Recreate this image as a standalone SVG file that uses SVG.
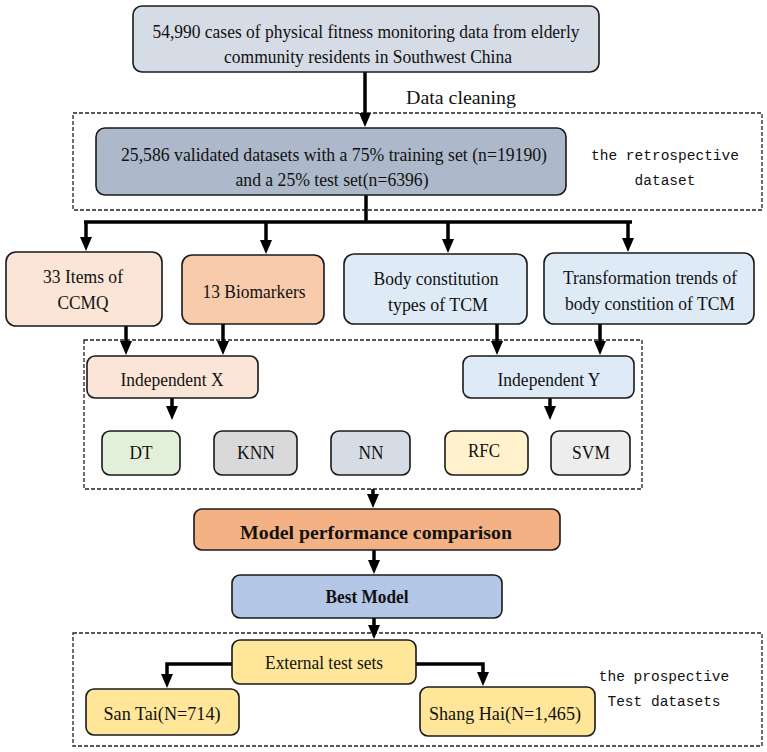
<svg xmlns="http://www.w3.org/2000/svg" width="767" height="752" viewBox="0 0 767 752">
<defs>
<marker id="ah" viewBox="0 0 14 12" refX="2" refY="6" markerWidth="14" markerHeight="12" markerUnits="userSpaceOnUse" orient="auto">
<path d="M0,0 L14,6 L0,12 z" fill="#000"/>
</marker>
</defs>
<style>
.box{stroke:#1a1a1a;stroke-width:1.6}
.dash{fill:none;stroke:#222;stroke-width:1.3;stroke-dasharray:4 2}
.t{font-family:"Liberation Serif","Times New Roman",serif;font-size:18px;fill:#111;text-anchor:middle}
.b{font-weight:bold}
.m{font-family:"Liberation Mono","Courier New",monospace;font-size:14.5px;fill:#111;text-anchor:middle}
.c{fill:none;stroke:#000;stroke-width:3.5}
.ca{fill:none;stroke:#000;stroke-width:3.5;marker-end:url(#ah)}
</style>
<rect width="767" height="752" fill="#fff"/>
<g id="frames">
<rect class="dash" x="73" y="113" width="689" height="97"/>
<rect class="dash" x="84" y="340" width="558" height="149"/>
<rect class="dash" x="73" y="633" width="689" height="113"/>
</g>
<g id="connectors">
<line class="ca" x1="365" y1="72" x2="365" y2="115"/>
<polyline class="c" points="366,195 366,222"/>
<line class="c" x1="84" y1="222" x2="632" y2="222"/>
<line class="ca" x1="86" y1="222" x2="86" y2="239"/>
<line class="ca" x1="266" y1="222" x2="266" y2="242"/>
<line class="ca" x1="448" y1="222" x2="448" y2="241"/>
<line class="ca" x1="628" y1="222" x2="628" y2="240"/>
<line class="ca" x1="126" y1="326" x2="126" y2="343"/>
<line class="ca" x1="223" y1="324" x2="223" y2="343"/>
<line class="ca" x1="497" y1="324" x2="497" y2="343"/>
<line class="ca" x1="600" y1="324" x2="600" y2="343"/>
<line class="ca" x1="172" y1="398" x2="172" y2="408"/>
<line class="ca" x1="550" y1="398" x2="550" y2="408"/>
<line class="ca" x1="373" y1="489" x2="373" y2="496"/>
<line class="ca" x1="374" y1="550" x2="374" y2="562"/>
<line class="ca" x1="374" y1="618" x2="374" y2="627"/>
<polyline class="ca" points="232,664 167,664 167,676"/>
<polyline class="ca" points="416,664 483,664 483,674"/>
</g>
<g id="n-source">
<rect class="box" x="133" y="6" width="466" height="66" rx="9" fill="#d6dce5"/>
<text class="t" x="366" y="38" textLength="427" lengthAdjust="spacingAndGlyphs">54,990 cases of physical fitness monitoring data from elderly</text>
<text class="t" x="368" y="63" textLength="288" lengthAdjust="spacingAndGlyphs">community residents in Southwest China</text>
</g>
<g id="l-cleaning">
<text class="t" x="461" y="104" textLength="110" lengthAdjust="spacingAndGlyphs">Data cleaning</text>
</g>
<g id="n-validated">
<rect class="box" x="96" y="128" width="470" height="67" rx="9" fill="#adb9ca"/>
<text class="t" x="334" y="161" textLength="426" lengthAdjust="spacingAndGlyphs">25,586 validated datasets with a 75% training set (n=19190)</text>
<text class="t" x="332" y="186" textLength="193" lengthAdjust="spacingAndGlyphs">and a 25% test set(n=6396)</text>
</g>
<g id="l-retro">
<text class="m" x="665" y="160">the retrospective</text>
<text class="m" x="665" y="185">dataset</text>
</g>
<g id="n-ccmq">
<rect class="box" x="6" y="252" width="156" height="74" rx="10" fill="#fbe5d6"/>
<text class="t" x="83" y="283" textLength="80" lengthAdjust="spacingAndGlyphs">33 Items of</text>
<text class="t" x="83" y="309" textLength="51" lengthAdjust="spacingAndGlyphs">CCMQ</text>
</g>
<g id="n-bio">
<rect class="box" x="182" y="255" width="142" height="69" rx="10" fill="#f8cbad"/>
<text class="t" x="254" y="298" textLength="103" lengthAdjust="spacingAndGlyphs">13 Biomarkers</text>
</g>
<g id="n-body">
<rect class="box" x="344" y="254" width="183" height="70" rx="10" fill="#deebf7"/>
<text class="t" x="436" y="285" textLength="125" lengthAdjust="spacingAndGlyphs">Body constitution</text>
<text class="t" x="438" y="311" textLength="100" lengthAdjust="spacingAndGlyphs">types of TCM</text>
</g>
<g id="n-trans">
<rect class="box" x="544" y="253" width="210" height="71" rx="10" fill="#deebf7"/>
<text class="t" x="650" y="284" textLength="174" lengthAdjust="spacingAndGlyphs">Transformation trends of</text>
<text class="t" x="650" y="310" textLength="170" lengthAdjust="spacingAndGlyphs">body constition of TCM</text>
</g>
<g id="n-x">
<rect class="box" x="87" y="356" width="171" height="42" rx="8" fill="#fbe5d6"/>
<text class="t" x="172" y="386" textLength="103" lengthAdjust="spacingAndGlyphs">Independent X</text>
</g>
<g id="n-y">
<rect class="box" x="463" y="356" width="171" height="42" rx="8" fill="#deebf7"/>
<text class="t" x="549" y="386" textLength="103" lengthAdjust="spacingAndGlyphs">Independent Y</text>
</g>
<g id="n-dt">
<rect class="box" x="102" y="431" width="78" height="44" rx="8" fill="#e2f0d9"/>
<text class="t" x="141" y="459" textLength="23" lengthAdjust="spacingAndGlyphs">DT</text>
</g>
<g id="n-knn">
<rect class="box" x="214" y="431" width="83" height="44" rx="8" fill="#d9d9d9"/>
<text class="t" x="256" y="459" textLength="38" lengthAdjust="spacingAndGlyphs">KNN</text>
</g>
<g id="n-nn">
<rect class="box" x="331" y="431" width="79" height="44" rx="8" fill="#d6dce5"/>
<text class="t" x="371" y="459" textLength="25" lengthAdjust="spacingAndGlyphs">NN</text>
</g>
<g id="n-rfc">
<rect class="box" x="445" y="431" width="83" height="44" rx="8" fill="#fff2cc"/>
<text class="t" x="484" y="457" textLength="32" lengthAdjust="spacingAndGlyphs">RFC</text>
</g>
<g id="n-svm">
<rect class="box" x="551" y="431" width="79" height="44" rx="8" fill="#ededed"/>
<text class="t" x="591" y="459" textLength="38" lengthAdjust="spacingAndGlyphs">SVM</text>
</g>
<g id="n-compare">
<rect class="box" x="194" y="509" width="366" height="41" rx="8" fill="#f4b183"/>
<text class="t b" x="376" y="539" textLength="272" lengthAdjust="spacingAndGlyphs">Model performance comparison</text>
</g>
<g id="n-best">
<rect class="box" x="232" y="575" width="270" height="43" rx="8" fill="#b4c7e7"/>
<text class="t b" x="367" y="603" textLength="83" lengthAdjust="spacingAndGlyphs">Best Model</text>
</g>
<g id="n-external">
<rect class="box" x="232" y="640" width="184" height="44" rx="8" fill="#ffe699"/>
<text class="t" x="324" y="669" textLength="118" lengthAdjust="spacingAndGlyphs">External test sets</text>
</g>
<g id="n-santai">
<rect class="box" x="86" y="689" width="153" height="46" rx="8" fill="#ffe699"/>
<text class="t" x="162" y="720" textLength="117" lengthAdjust="spacingAndGlyphs">San Tai(N=714)</text>
</g>
<g id="n-shanghai">
<rect class="box" x="420" y="687" width="175" height="49" rx="8" fill="#ffe699"/>
<text class="t" x="505" y="720" textLength="152" lengthAdjust="spacingAndGlyphs">Shang Hai(N=1,465)</text>
</g>
<g id="l-prosp">
<text class="m" x="664" y="681">the prospective</text>
<text class="m" x="664" y="706">Test datasets</text>
</g>
</svg>
